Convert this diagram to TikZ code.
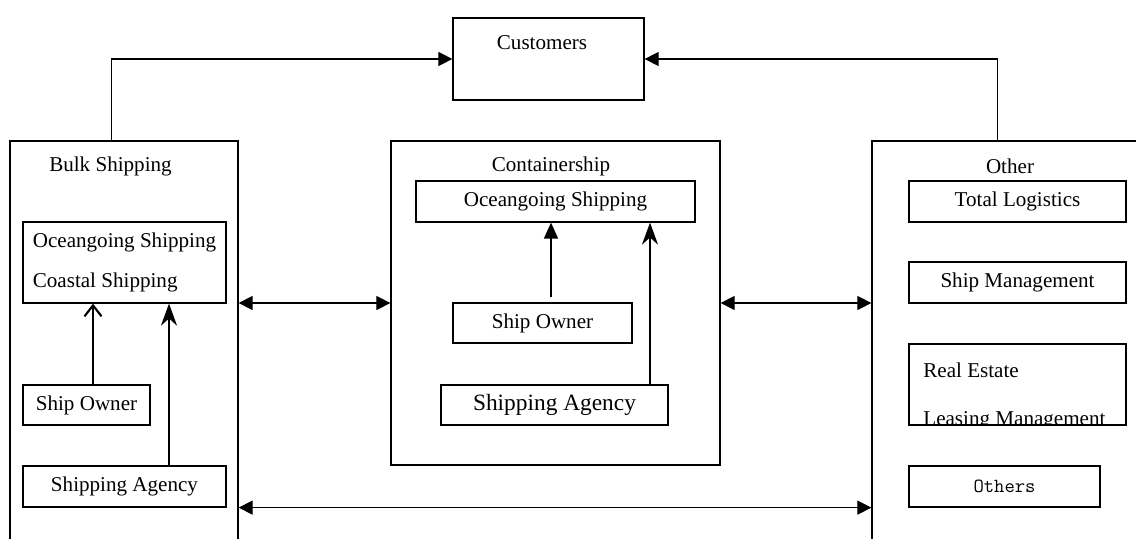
\documentclass[tikz,border=0pt]{standalone}
\usepackage{fontspec}
\setmainfont{Liberation Serif}
\usetikzlibrary{arrows.meta}

\begin{document}
\begin{tikzpicture}[
    font=\fontsize{12}{14.4}\selectfont,
    group/.style={draw, line width=0.7pt, inner sep=0pt},
    unit/.style={draw, line width=0.7pt, inner sep=0pt, minimum height=0.82cm},
    title/.style={inner sep=0pt},
    feed/.style={line width=0.6pt, -{Triangle[length=2.8mm,width=2.8mm]}},
    link/.style={line width=0.6pt,
                 {Triangle[length=2.8mm,width=2.8mm]}-{Triangle[length=2.8mm,width=2.8mm]}},
    rise/.style={line width=1.2pt},
]
\clip (0,0) rectangle (22.72,10.76);

\node[group, minimum width=3.82cm, minimum height=1.64cm] (cust) at (10.97,9.58) {};
\node[title] (cust-t) at (10.84,9.90) {Customers};

\node[group, minimum width=4.56cm, minimum height=8.44cm] (bulk)  at (2.48,3.72) {};
\node[group, minimum width=6.58cm, minimum height=6.48cm] (cont)  at (11.11,4.70) {};
\node[group, minimum width=5.76cm, minimum height=8.44cm] (other) at (20.32,3.72) {};
\node[title] (bulk-t)  at (2.21,7.44)  {Bulk Shipping};
\node[title] (cont-t)  at (11.02,7.44) {Containership};
\node[title] (other-t) at (20.20,7.44) {Other};

% bulk shipping
\node[unit, minimum width=4.06cm, minimum height=1.62cm, align=left] (bsea) at (2.49,5.51)
     {Oceangoing Shipping\\[8pt]Coastal Shipping};
\node[unit, minimum width=2.54cm, minimum height=0.80cm] (bown) at (1.73,2.66) {Ship Owner};
\node[unit, minimum width=4.06cm] (bagency) at (2.49,1.03) {Shipping Agency};

% containership
\node[unit, minimum width=5.58cm] (cocean) at (11.11,6.73) {Oceangoing Shipping};
\node[unit, minimum width=3.58cm, minimum height=0.80cm] (cown) at (10.85,4.30) {Ship Owner};
\node[unit, minimum width=4.54cm, minimum height=0.80cm,
      font=\fontsize{13.3}{16}\selectfont] (cagency) at (11.09,2.66) {Shipping Agency};

% other business
\node[unit, minimum width=4.34cm] (otl) at (20.35,6.73) {Total Logistics};
\node[unit, minimum width=4.34cm] (osm) at (20.35,5.11) {Ship Management};
\node[unit, minimum width=4.34cm, minimum height=1.62cm] (ore) at (20.35,3.07) {};
\node[title, anchor=west] (ore-a) at (18.46,3.36) {Real Estate};
\begin{scope}
  \clip (ore.south west) rectangle (ore.north east);
  \node[title, anchor=base west] (ore-b) at (18.46,2.25) {Leasing Management};
\end{scope}
\node[unit, minimum width=3.82cm, font=\ttfamily\fontsize{11.4}{13}\selectfont] (oothers)
     at (20.09,1.03) {Others};

\draw[feed] ([xshift=2.04cm]bulk.north west) |- (cust.west);
\draw[feed] ([xshift=2.52cm]other.north west) |- (cust.east);

\draw[link] (bulk.east |- cont.west) -- (cont.west);
\draw[link] (cont.east) -- (other.west |- cont.east);
\draw[link] (bulk.east |- bagency.south) -- (other.west |- bagency.south);

\coordinate (bown-up)    at ([xshift=0.13cm]bown.north);
\coordinate (bagency-up) at ([xshift=0.89cm]bagency.north);
\coordinate (cown-up)    at ([xshift=0.17cm,yshift=0.1cm]cown.north);
\coordinate (cagency-up) at ([xshift=1.91cm]cagency.north);
\draw[rise, -{Straight Barb[length=2.2mm,width=3.4mm]}] (bown-up) -- (bown-up |- bsea.south);
\draw[rise, -{Stealth[length=4.4mm,width=3.2mm]}] (bagency-up) -- (bagency-up |- bsea.south);
\draw[rise, line width=0.9pt, -{Triangle[length=3.2mm,width=2.8mm]}] (cown-up) -- (cown-up |- cocean.south);
\draw[rise, -{Stealth[length=4.4mm,width=3.2mm]}] (cagency-up) -- (cagency-up |- cocean.south);
\end{tikzpicture}
\end{document}
